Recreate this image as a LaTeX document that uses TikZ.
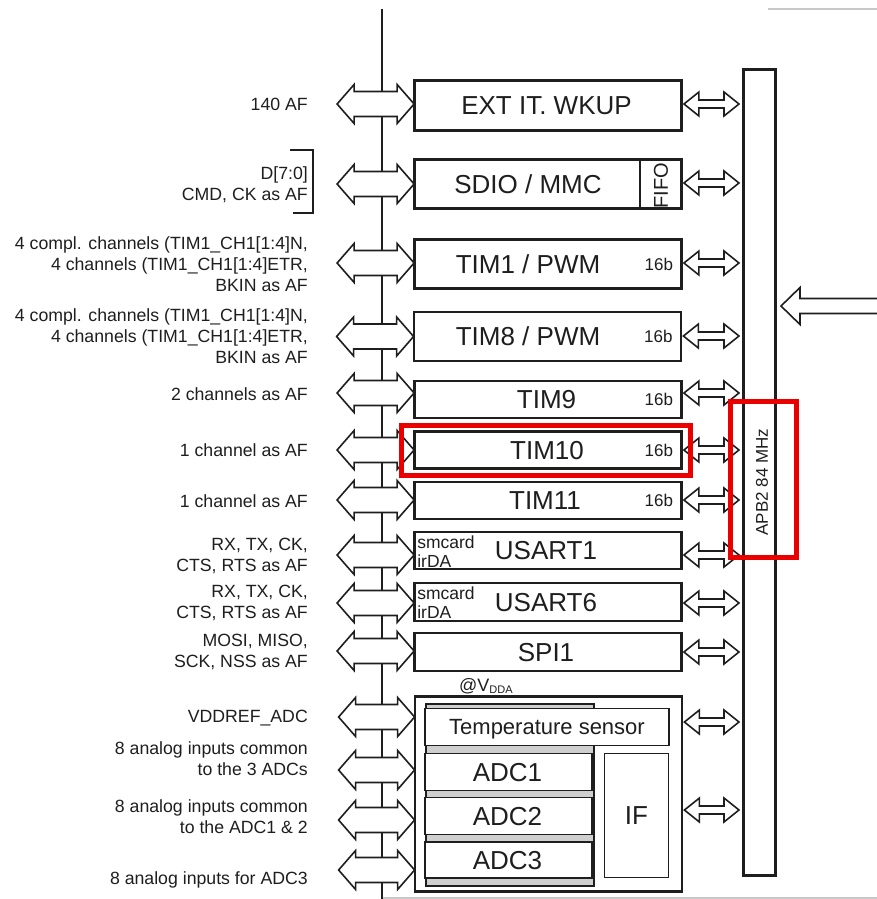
\documentclass[tikz,border=0pt]{standalone}
\usepackage{fontspec}
\setmainfont{Liberation Sans}
\usetikzlibrary{calc}
\definecolor{ink}{HTML}{1E1E1E}
\definecolor{hlred}{RGB}{235,0,0}
\definecolor{lgray}{HTML}{C8C8C8}
\definecolor{plategray}{HTML}{CFCFCF}
\newcommand\dblarr[6]{\draw[arr] let \p1=#1, \p2=#2, \p3=#3 in (\x1,\y3) -- (\x1+#6,\y3+#5) -- (\x1+#6,\y3+#4) -- (\x2-#6,\y3+#4) -- (\x2-#6,\y3+#5) -- (\x2,\y3) -- (\x2-#6,\y3-#5) -- (\x2-#6,\y3-#4) -- (\x1+#6,\y3-#4) -- (\x1+#6,\y3-#5) -- cycle;}
\newcommand\larr[2]{\dblarr{([xshift=-77pt]#1.west)}{(#1.west)}{([yshift=#2pt]#1.west)}{12.5}{19.5}{17}}
\newcommand\rarr[2]{\dblarr{([xshift=2pt]#1.east)}{([xshift=-3pt]apb.west)}{([yshift=#2pt]#1.east)}{4}{12}{15}}
\tikzset{
  arr/.style={draw=ink, line width=1.6pt, fill=white, line join=miter},
  blk/.style={draw=ink, line width=1.8pt, fill=white, inner sep=0, minimum width=266},
  inbox/.style={draw=ink, line width=1.8pt, fill=white, inner sep=0},
  big/.style={font=\fontsize{26}{30}\selectfont, text=ink, inner sep=0, text height=18.6pt, text depth=0pt},
  mid/.style={font=\fontsize{22}{26}\selectfont, text=ink, inner sep=0, text height=15.8pt, text depth=0pt},
  sixteen/.style={font=\fontsize{17}{20}\selectfont, text=ink, inner sep=0, text height=12.2pt, text depth=0pt},
  lab/.style={font=\fontsize{17.7}{21}\selectfont, text=ink, align=right, anchor=east, inner sep=0},
  smallt/.style={font=\fontsize{17.5}{19}\selectfont, text=ink, align=left, anchor=base west, inner sep=0},
  hl/.style={draw=hlred, line width=5pt},
  busline/.style={draw=ink, line width=2.4pt},
}
\begin{document}
\begin{tikzpicture}[x=1pt, y=-1pt]
\useasboundingbox (0,0) rectangle (876,899);
% thin gray rules at the page edges
\coordinate (gtl) at (768,9);
\coordinate (gtr) at (877,9);
\draw[lgray, line width=1.6pt] (gtl) -- (gtr);
\coordinate (gbl) at (383,898);
\coordinate (gbr) at (877,898);
\draw[lgray, line width=1.6pt] (gbl) -- (gbr);
% main bus
\coordinate (bustop) at (382,9);
\coordinate (busbot) at (382,900);
\draw[busline] (bustop) -- (busbot);
% APB2 bus
\node[draw=ink, line width=3pt, fill=white, inner sep=0, minimum width=32, minimum height=805.5] (apb) at (759.5,472.25) {};
\node[font=\fontsize{17}{20}\selectfont, text=ink, rotate=90, inner sep=0] (apbt) at (762,482) {APB2 84 MHz};
% blocks
\node[blk, minimum height=49] (ext) at (548,105.5) {};
\node[blk, minimum height=48] (sdio) at (548,184) {};
\node[blk, minimum height=48] (tim1) at (548,264) {};
\node[blk, minimum height=48] (tim8) at (547.5,336.5) {};
\node[blk, minimum height=36] (tim9) at (548,399.5) {};
\node[blk, minimum height=36] (tim10) at (548,450) {};
\node[blk, minimum height=36] (tim11) at (548,500.5) {};
\node[blk, minimum height=36] (usart1) at (548,550.5) {};
\node[blk, minimum height=37] (usart6) at (548,602) {};
\node[blk, minimum height=37] (spi1) at (548,652) {};
\node[blk, minimum height=194] (adc) at (548.5,794) {};
% left double arrows
\larr{ext}{1.5}
\larr{sdio}{0}
\larr{tim1}{1}
\larr{tim8}{0}
\larr{tim9}{6.5}
\larr{tim10}{0}
\larr{tim11}{0.5}
\larr{usart1}{-4.5}
\larr{usart6}{-1}
\larr{spi1}{1}
\dblarr{([xshift=-76pt]adc.west)}{(adc.west)}{([yshift=77pt]adc.west)}{12.5}{19.5}{17}
\dblarr{([xshift=-76pt]adc.west)}{(adc.west)}{([yshift=24pt]adc.west)}{12.5}{19.5}{17}
\dblarr{([xshift=-76pt]adc.west)}{(adc.west)}{([yshift=-26pt]adc.west)}{12.5}{19.5}{17}
\dblarr{([xshift=-76pt]adc.west)}{(adc.west)}{([yshift=-76pt]adc.west)}{12.5}{19.5}{17}
% redraw block borders over arrow tips
\foreach \b in {ext,sdio,tim1,tim8,tim9,tim10,tim11,usart1,usart6,spi1,adc}
  \draw[draw=ink, line width=1.8pt] (\b.north west) rectangle (\b.south east);
% block labels
\node[big] (extt) at ([xshift=-1.5pt]ext.center) {EXT IT. WKUP};
\node[big] (sdiot) at ([xshift=-20pt]sdio.center) {SDIO / MMC};
\draw[draw=ink, line width=1.6pt] ([xshift=-42pt]sdio.north east) -- ([xshift=-42pt]sdio.south east);
\node[font=\fontsize{20}{22}\selectfont, text=ink, rotate=90, inner sep=0] (fifo) at ([xshift=-21pt,yshift=-1.5pt]sdio.east) {FIFO};
\node[big] (tim1t) at ([xshift=-20pt]tim1.center) {TIM1 / PWM};
\node[sixteen] (tim1b) at ([xshift=-23pt]tim1.east) {16b};
\node[big] (tim8t) at ([xshift=-19.5pt]tim8.center) {TIM8 / PWM};
\node[sixteen] (tim8b) at ([xshift=-23pt]tim8.east) {16b};
\node[big] (tim9t) at ([xshift=-1.5pt]tim9.center) {TIM9};
\node[sixteen] (tim9b) at ([xshift=-23pt]tim9.east) {16b};
\node[big] (tim10t) at ([xshift=-1pt]tim10.center) {TIM10};
\node[sixteen] (tim10b) at ([xshift=-23pt]tim10.east) {16b};
\node[big] (tim11t) at ([xshift=-3pt]tim11.center) {TIM11};
\node[sixteen] (tim11b) at ([xshift=-23pt]tim11.east) {16b};
\node[big] (usart1t) at ([xshift=-2pt]usart1.center) {USART1};
\node[smallt] (usart1s) at ([xshift=3pt,yshift=-16.5pt]usart1.west) {smcard\\irDA};
\node[big] (usart6t) at ([xshift=-2pt]usart6.center) {USART6};
\node[smallt] (usart6s) at ([xshift=3pt,yshift=-16pt]usart6.west) {smcard\\irDA};
\node[big] (spi1t) at ([xshift=-2pt]spi1.center) {SPI1};
% ADC block internals
\node[anchor=base west, inner sep=0, text=ink] (vdda) at (459,691) {\fontsize{18}{18}\selectfont @V\raisebox{-2.5pt}{\fontsize{11}{11}\selectfont DDA}};
\node[draw=ink, line width=1.8pt, fill=plategray, inner sep=0, minimum width=168, minimum height=182, anchor=north west] (plate) at (425,703) {};
\node[inbox, minimum width=244, minimum height=37, fill=white] (temp) at (547,727) {};
\node[mid] (tempt) at (temp.center) {Temperature sensor};
\node[inbox, minimum width=167, minimum height=37] (adc1) at (508.5,772) {};
\node[big] (adc1t) at ([xshift=-1pt]adc1.center) {ADC1};
\node[inbox, minimum width=167, minimum height=37] (adc2) at (508.5,816) {};
\node[big] (adc2t) at ([xshift=-1pt]adc2.center) {ADC2};
\node[inbox, minimum width=167, minimum height=36] (adc3) at (508.5,860) {};
\node[big] (adc3t) at ([xshift=-1pt]adc3.center) {ADC3};
\node[inbox, minimum width=64, minimum height=124] (ifb) at (636.5,815.5) {};
\node[big] (ift) at (ifb.center) {IF};
% right double arrows to APB2
\rarr{ext}{1.5}
\rarr{sdio}{1}
\rarr{tim1}{1}
\rarr{tim8}{0.5}
\rarr{tim9}{6.5}
\rarr{tim10}{0}
\rarr{tim11}{0.5}
\rarr{usart1}{-4.5}
\rarr{usart6}{-1}
\rarr{spi1}{0}
\dblarr{([xshift=2pt]adc.east)}{([xshift=-3pt]apb.west)}{([yshift=5pt]temp.east)}{4}{12}{15}
\dblarr{([xshift=2pt]adc.east)}{([xshift=-3pt]apb.west)}{([yshift=5.5pt]ifb.east)}{4}{12}{15}
% incoming clock arrow
\draw[arr] let \p1=([xshift=4pt]apb.east) in (\x1,-306pt) -- (\x1+19,-287.5pt) -- (\x1+19,-298.5pt) -- (880pt,-298.5pt) -- (880pt,-313.5pt) -- (\x1+19,-313.5pt) -- (\x1+19,-324.5pt) -- cycle;
% left labels
\node[lab] (l1) at (308,104) {140 AF};
\coordinate (bk1) at (290,150);
\coordinate (bk2) at (313,150);
\coordinate (bk3) at (313,213);
\coordinate (bk4) at (293,213);
\draw[draw=ink, line width=2.4pt] (bk1) -- (bk2) -- (bk3) -- (bk4);
\node[lab] (l2) at (308,185) {D[7:0]\\CMD, CK as AF};
\node[lab] (l3) at (308,264) {4 compl. channels (TIM1\_CH1[1:4]N,\\4 channels (TIM1\_CH1[1:4]ETR,\\BKIN as AF};
\node[lab] (l4) at (308,336) {4 compl. channels (TIM1\_CH1[1:4]N,\\4 channels (TIM1\_CH1[1:4]ETR,\\BKIN as AF};
\node[lab] (l5) at (308,394) {2 channels as AF};
\node[lab] (l6) at (308,450) {1 channel as AF};
\node[lab] (l7) at (308,501) {1 channel as AF};
\node[lab] (l8) at (308,555.5) {RX, TX, CK,\\CTS, RTS as AF};
\node[lab] (l9) at (308,603) {RX, TX, CK,\\CTS, RTS as AF};
\node[lab] (l10) at (308,651.5) {MOSI, MISO,\\SCK, NSS as AF};
\node[lab] (l11) at (308,718) {VDDREF\_ADC};
\node[lab] (l12) at (308,759) {8 analog inputs common\\to the 3 ADCs};
\node[lab] (l13) at (308,817) {8 analog inputs common\\to the ADC1 \& 2};
\node[lab] (l14) at (308,880) {8 analog inputs for ADC3};
% red highlights
\coordinate (h1a) at (401.5,425.5);
\coordinate (h1b) at (690.5,475.5);
\draw[hl] (h1a) rectangle (h1b);
\coordinate (h2a) at (730.5,401.5);
\coordinate (h2b) at (796.5,557.5);
\draw[hl] (h2a) rectangle (h2b);
\end{tikzpicture}
\end{document}
